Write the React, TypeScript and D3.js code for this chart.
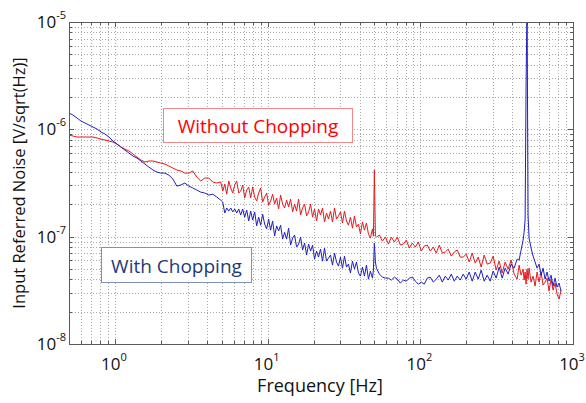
import React from 'react';
import * as d3 from 'd3';

// Frequency bins [Hz]
const frequencies = [
  0.5, 0.531, 0.564, 0.599, 0.637, 0.676, 0.718, 0.763, 0.81, 0.86,
  0.914, 0.97, 1.031, 1.094, 1.162, 1.235, 1.311, 1.393, 1.479, 1.571,
  1.668, 1.772, 1.882, 1.999, 2.123, 2.254, 2.394, 2.543, 2.701, 2.868,
  3.046, 3.235, 3.436, 3.649, 3.875, 4.116, 4.371, 4.642, 4.93, 5.081,
  5.236, 5.396, 5.561, 5.731, 5.906, 6.086, 6.272, 6.464, 6.661, 6.865,
  7.075, 7.291, 7.514, 7.743, 7.98, 8.224, 8.475, 8.734, 9.001, 9.276,
  9.559, 9.851, 10.15, 10.46, 10.78, 11.11, 11.45, 11.8, 12.16, 12.53,
  12.92, 13.31, 13.72, 14.14, 14.57, 15.02, 15.47, 15.95, 16.44, 16.94,
  17.46, 17.99, 18.54, 19.11, 19.69, 20.29, 20.91, 21.54, 22.2, 22.88,
  23.58, 24.3, 25.04, 25.81, 26.6, 27.41, 28.25, 29.11, 30.0, 30.92,
  31.86, 32.84, 33.84, 34.87, 35.94, 37.04, 38.17, 39.34, 40.54, 41.78,
  43.05, 44.37, 45.72, 47.12, 48.56, 49.3, 50.0, 50.8, 51.6, 53.96,
  56.45, 59.06, 61.78, 64.64, 67.62, 70.74, 74.01, 77.43, 81.0, 84.74,
  88.66, 92.75, 97.03, 101.5, 106.2, 111.1, 116.2, 121.6, 127.2, 133.1,
  139.3, 145.7, 152.4, 159.5, 166.8, 174.5, 182.6, 191.0, 199.8, 209.1,
  218.7, 228.8, 239.4, 250.4, 262.0, 274.1, 286.8, 300.0, 313.9, 328.4,
  343.6, 359.4, 376.0, 393.4, 411.6, 430.6, 443.7, 457.2, 471.2, 478.3,
  485.6, 492.9, 500.0, 507.9, 515.6, 531.5, 547.7, 564.5, 581.8, 599.5,
  617.9, 636.8, 656.3, 676.3, 697.0, 718.3, 740.3, 763.0, 786.3, 810.3,
  835.1,
];

// Input referred noise without chopping [nV/sqrt(Hz)]
const withoutChopping = [
  885, 866, 848, 848, 848, 848, 848, 830, 812, 795,
  778, 761, 729, 684, 655, 628, 589, 552, 518, 496,
  507, 507, 496, 485, 475, 455, 436, 418, 409, 391,
  391, 409, 359, 330, 352, 352, 323, 316,
  323, 266, 309, 249, 330, 284, 255, 303, 330, 255, 266, 303,
  229, 272, 290, 229, 290, 234, 215, 255, 284, 210,
  234, 255, 197, 215, 249, 201, 229, 181, 244, 201,
  185, 219, 189, 224, 170, 201, 173, 224, 159, 185,
  201, 156, 170, 201, 152, 181, 140, 181, 159, 185,
  137, 166, 146, 173, 137, 185, 146, 156, 170, 134,
  173, 140, 128, 152, 120, 156, 123, 131, 106, 137,
  115, 134, 106, 97.0, 118, 101,
  418,
  101.3, 99.1, 103.5, 91.0, 99.1, 85.3, 99.1, 89.1, 99.1, 83.5,
  85.3, 92.9, 78.3, 87.2, 80.0, 89.1, 73.4, 81.7, 83.5, 73.4,
  80.0, 70.3, 83.5, 70.3, 71.9, 76.6, 65.9, 71.9, 75.0, 64.5, 64.5, 68.8, 58.0,
  70.3, 56.7, 64.5, 52.1, 67.4, 55.5, 56.7, 65.9, 48.8, 59.2,
  45.8, 58.0, 49.9, 60.5, 44.8, 40.2, 54.3, 43.8, 49.9, 39.4,
  46.8, 36.1, 49.9, 40.2, 50.9, 37.7, 42.9, 34.6, 46.8, 37.7,
  46.8, 35.4, 37.7, 41.1, 31.1, 40.2, 31.8, 36.9, 29.2, 26.2, 31.8,
];

// Input referred noise with chopping [nV/sqrt(Hz)]
const withChopping = [
  1418, 1359, 1274, 1195, 1145, 1097, 1051, 1006, 944, 904,
  848, 778, 729, 684, 641, 601, 564, 540, 507, 475,
  445, 418, 400, 391, 391, 375, 344, 296, 303, 316,
  296, 284, 272, 260, 255, 244, 249, 234, 219, 210,
  166, 185, 173, 185, 170, 181, 166, 181, 159, 181,
  152, 177, 140, 173, 143, 170, 126, 152, 128, 162,
  131, 118, 146, 115, 140, 101.3, 126, 113, 128, 94.9,
  110, 94.9, 120, 83.5, 97.0, 103.5, 80.0, 85.3, 99.1, 75.0,
  87.2, 67.4, 85.3, 73.4, 83.5, 61.8, 73.4, 64.5, 76.6, 59.2,
  78.3, 59.2, 63.1, 67.4, 54.3, 70.3, 58.0, 53.2, 64.5, 50.9,
  65.9, 52.1, 55.5, 45.8, 59.2, 49.9, 58.0, 45.8, 42.9, 52.1,
  42.9, 54.3, 40.2, 47.8, 41.1, 48.8,
  87.2,
  58.0, 50.9, 44.8, 42.0, 41.1, 41.1, 39.4, 42.0, 40.2, 36.9,
  39.4, 38.5, 41.1, 42.0, 38.5, 36.1, 37.7, 36.1, 41.1, 42.0,
  37.7, 40.2, 43.8, 37.7, 42.9, 39.4, 44.8, 38.5, 42.9, 39.4, 44.8, 40.2, 46.8,
  38.5, 46.8, 40.2, 48.8, 38.5, 43.8, 38.5, 47.8, 41.1, 52.1,
  41.1, 50.9, 44.8, 55.5, 50.9, 61.8, 60.5, 75.0, 92.9, 110,
  143, 2600, 15000, 159, 97.0, 78.3, 65.9, 58.0, 50.9, 55.5,
  43.8, 50.9, 40.2, 46.8, 38.5, 43.8, 34.6, 41.1, 33.9, 36.9, 31.1,
];

const xTickExponents = [0, 1, 2, 3];
const yTickExponents = [-8, -7, -6, -5];
const xTitle = 'Frequency [Hz]';
const yTitle = 'Input Referred Noise [V/sqrt(Hz)]';
const labelWithout = 'Without Chopping';
const labelWith = 'With Chopping';

const W = 586;
const H = 403;
const P = { left: 69, right: 573, top: 22, bottom: 344 };
const FONT = "'Open Sans', 'Noto Sans', sans-serif";

export default function App() {
  const x = d3.scaleLog().domain([0.5, 1000]).range([P.left, P.right]);
  const y = d3.scaleLog().domain([1e-8, 1e-5]).range([P.bottom, P.top]);

  const lineFor = (vals: number[]) =>
    d3
      .line<number>()
      .x((_, i) => x(frequencies[i]))
      .y((d) => y(d * 1e-9))(vals) || '';

  const xMinor = x.ticks();
  const yMinor = y.ticks();
  const isMajor = (v: number) => Math.abs(Math.log10(v) - Math.round(Math.log10(v))) < 1e-6;

  const gridColor = '#a9a9a9';
  const axisColor = '#5a5a5a';

  return (
    <svg
      width={W}
      height={H}
      viewBox={`0 0 ${W} ${H}`}
      style={{ position: 'absolute', left: 0, top: 0, display: 'block', background: '#fff' }}
    >
      <defs>
        <clipPath id="plotClip">
          <rect x={P.left} y={P.top} width={P.right - P.left} height={P.bottom - P.top} />
        </clipPath>
      </defs>
      <rect x={0} y={0} width={W} height={H} fill="#fff" />

      {/* grid */}
      <g stroke={gridColor} strokeWidth={1} strokeDasharray="1 2" shapeRendering="crispEdges">
        {xMinor.map((t, i) => (
          <line key={'gx' + i} x1={Math.round(x(t)) + 0.5} x2={Math.round(x(t)) + 0.5} y1={P.top} y2={P.bottom} />
        ))}
        {yMinor.map((t, i) => (
          <line key={'gy' + i} x1={P.left} x2={P.right} y1={Math.round(y(t)) + 0.5} y2={Math.round(y(t)) + 0.5} />
        ))}
      </g>

      {/* ticks */}
      <g stroke={axisColor} strokeWidth={1} shapeRendering="crispEdges">
        {xMinor.map((t, i) => {
          const px = Math.round(x(t)) + 0.5;
          const len = isMajor(t) ? 5 : 3;
          return (
            <g key={'tx' + i}>
              <line x1={px} x2={px} y1={P.bottom} y2={P.bottom - len} />
              <line x1={px} x2={px} y1={P.top} y2={P.top + len} />
            </g>
          );
        })}
        {yMinor.map((t, i) => {
          const py = Math.round(y(t)) + 0.5;
          const len = isMajor(t) ? 5 : 3;
          return (
            <g key={'ty' + i}>
              <line x1={P.left} x2={P.left + len} y1={py} y2={py} />
              <line x1={P.right} x2={P.right - len} y1={py} y2={py} />
            </g>
          );
        })}
      </g>

      {/* data */}
      <g clipPath="url(#plotClip)" fill="none" strokeLinejoin="round">
        <path d={lineFor(withoutChopping)} stroke="#e41a1c" strokeWidth={1} />
        <path d={lineFor(withChopping)} stroke="#1f1fc0" strokeWidth={1} />
      </g>

      {/* box */}
      <rect
        x={P.left + 0.5}
        y={P.top + 0.5}
        width={P.right - P.left}
        height={P.bottom - P.top}
        fill="none"
        stroke={axisColor}
        strokeWidth={1}
        shapeRendering="crispEdges"
      />

      {/* y tick labels */}
      {yTickExponents.map((e) => (
        <text key={'yl' + e} x={66} y={y(Math.pow(10, e)) + 6} textAnchor="end" fontFamily={FONT} fill="#111">
          <tspan fontSize={17}>10</tspan>
          <tspan fontSize={11} dy={-9}>{e}</tspan>
        </text>
      ))}

      {/* x tick labels */}
      {xTickExponents.map((e) => (
        <text key={'xl' + e} x={x(Math.pow(10, e)) - 1} y={370} textAnchor="middle" fontFamily={FONT} fill="#111">
          <tspan fontSize={17}>10</tspan>
          <tspan fontSize={11} dy={-9}>{e}</tspan>
        </text>
      ))}

      {/* axis titles */}
      <text x={320} y={392} textAnchor="middle" fontFamily={FONT} fontSize={18} fill="#111">
        {xTitle}
      </text>
      <text
        transform={`translate(25, 183) rotate(-90)`}
        textAnchor="middle"
        fontFamily={FONT}
        fontSize={16.5}
        fill="#111"
      >
        {yTitle}
      </text>

      {/* annotation boxes */}
      <rect x={163.5} y={108.5} width={189} height={34} fill="#fff" stroke="#f08a8a" strokeWidth={1} />
      <text x={258} y={133} textAnchor="middle" fontFamily={FONT} fontSize={19} fill="#ff0000">
        {labelWithout}
      </text>
      <rect x={101.5} y={247.5} width={150} height={35} fill="#fff" stroke="#7f93b5" strokeWidth={1} />
      <text x={176.5} y={273} textAnchor="middle" fontFamily={FONT} fontSize={19} fill="#1f3a78">
        {labelWith}
      </text>
    </svg>
  );
}
